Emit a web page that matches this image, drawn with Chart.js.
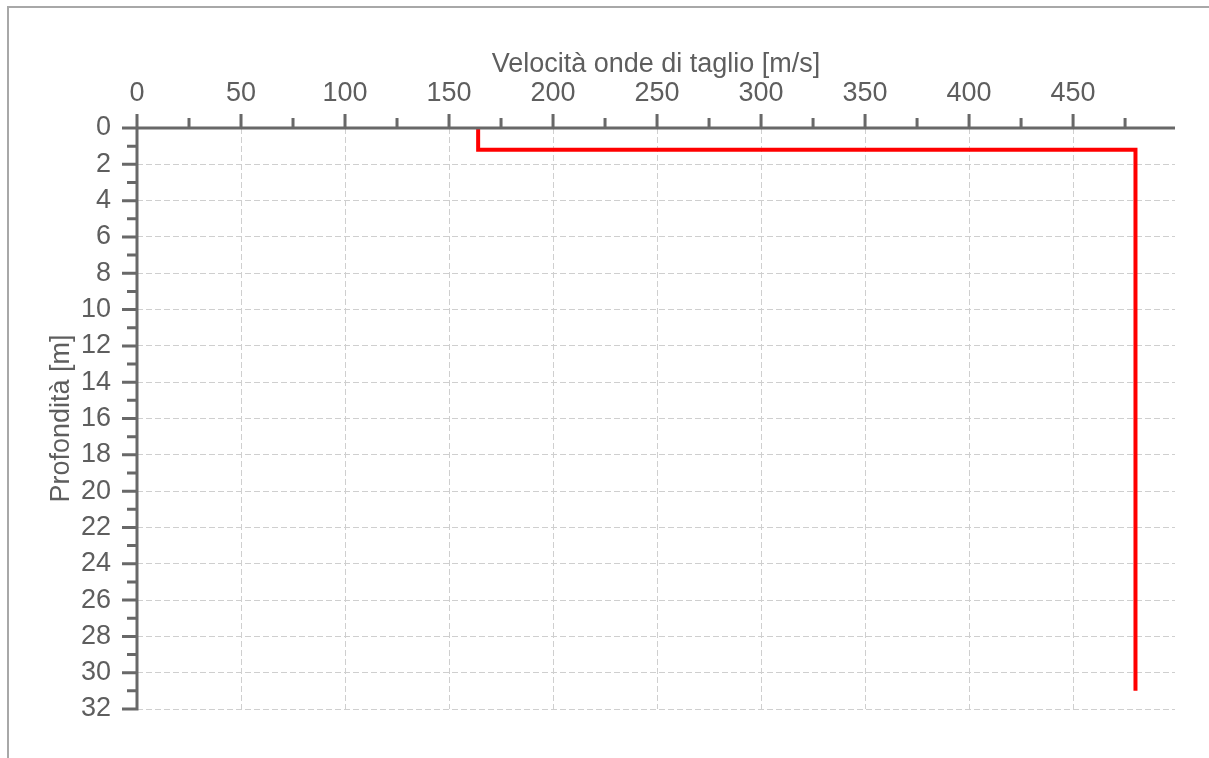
<!DOCTYPE html>
<html>
<head>
<meta charset="utf-8">
<script src="https://cdn.jsdelivr.net/npm/chart.js@4.4.0/dist/chart.umd.min.js"></script>
<style>
  html, body { margin:0; padding:0; background:#fff; overflow:hidden; }
  #frame { position:absolute; left:7px; top:6px; width:1400px; height:1000px;
           border-left:2px solid #a8a8a8; border-top:2px solid #a8a8a8; }
  #wrap { position:absolute; left:0; top:0; width:1209px; height:758px; }
</style>
</head>
<body>
<div id="frame"></div>
<div id="wrap"><canvas id="myChart" width="1209" height="758"></canvas></div>
<script>
// layers: shear wave velocity and depth range
var layerVelocity = [164, 480];
var layerTop = [0, 1.2];
var layerBottom = [1.2, 31];

var xTicks = [0,25,50,75,100,125,150,175,200,225,250,275,300,325,350,375,400,425,450,475];
var xLabels = [0,50,100,150,200,250,300,350,400,450];
var yTicks = [];
for (var t = 0; t <= 32; t++) yTicks.push(t);
var yLabels = [0,2,4,6,8,10,12,14,16,18,20,22,24,26,28,30,32];

var textColor = "#5e5e5e";
var axisColor = "#686868";
var gridColor = "#cfcfcf";
var font = {family: "'Liberation Sans', Arial, sans-serif", size: 27};

var points = [];
for (var i = 0; i < layerVelocity.length; i++) {
  points.push({x: layerVelocity[i], y: layerTop[i]});
  points.push({x: layerVelocity[i], y: layerBottom[i]});
}

// axis lines and tick marks (major longer than minor), drawn over the data
var axisPlugin = {
  id: "axisTicks",
  afterDatasetsDraw: function(chart) {
    var ctx = chart.ctx, a = chart.chartArea;
    var xs = chart.scales.x, ys = chart.scales.y;
    ctx.save();
    ctx.strokeStyle = axisColor;
    ctx.lineWidth = 3;
    ctx.beginPath();
    ctx.moveTo(a.left, a.top); ctx.lineTo(a.right, a.top);
    ctx.moveTo(a.left, a.top); ctx.lineTo(a.left, a.bottom + 1.5);
    xTicks.forEach(function(v) {
      var px = xs.getPixelForValue(v);
      var len = xLabels.indexOf(v) >= 0 ? 14 : 10;
      ctx.moveTo(px, a.top); ctx.lineTo(px, a.top - len);
    });
    yTicks.forEach(function(v) {
      var py = ys.getPixelForValue(v);
      var len = yLabels.indexOf(v) >= 0 ? 15 : 10;
      ctx.moveTo(a.left, py); ctx.lineTo(a.left - len, py);
    });
    ctx.stroke();
    ctx.restore();
  }
};

new Chart("myChart", {
  type: "scatter",
  data: {
    datasets: [{
      data: points,
      showLine: true,
      borderColor: "#ff0000",
      backgroundColor: "#ff0000",
      borderWidth: 4,
      borderJoinStyle: "miter",
      pointRadius: 0,
      fill: false
    }]
  },
  options: {
    responsive: false,
    devicePixelRatio: 1,
    animation: false,
    layout: {padding: {left: 0, top: 0, right: 34, bottom: 49}},
    plugins: {legend: {display: false}, tooltip: {enabled: false}},
    scales: {
      x: {
        type: "linear",
        position: "top",
        min: 0,
        max: 499,
        afterBuildTicks: function(s) { s.ticks = xTicks.map(function(v) { return {value: v}; }); },
        afterFit: function(s) { s.height = 128; },
        ticks: {
          autoSkip: false, maxRotation: 0, padding: 18, color: textColor, font: font,
          callback: function(v) { return xLabels.indexOf(v) >= 0 ? String(v) : ""; }
        },
        grid: {
          drawTicks: false, lineWidth: 1,
          color: function(c) {
            return (c.tick && c.tick.value !== 0 && xLabels.indexOf(c.tick.value) >= 0) ? gridColor : "rgba(0,0,0,0)";
          }
        },
        border: {display: false, dash: [6, 3]},
        title: {display: true, text: "Velocità onde di taglio [m/s]", color: textColor, font: font,
                padding: {top: 48, bottom: 0}}
      },
      y: {
        type: "linear",
        position: "left",
        reverse: true,
        min: 0,
        max: 32,
        afterBuildTicks: function(s) { s.ticks = yTicks.map(function(v) { return {value: v}; }); },
        afterFit: function(s) { s.width = 137; },
        ticks: {
          autoSkip: false, padding: 26, color: textColor, font: font,
          callback: function(v) { return yLabels.indexOf(v) >= 0 ? String(v) : ""; }
        },
        grid: {
          drawTicks: false, lineWidth: 1,
          color: function(c) {
            return (c.tick && c.tick.value !== 0 && yLabels.indexOf(c.tick.value) >= 0) ? gridColor : "rgba(0,0,0,0)";
          }
        },
        border: {display: false, dash: [6, 3]},
        title: {display: true, text: "Profondità [m]", color: textColor, font: font,
                padding: {top: 45, bottom: 0}}
      }
    }
  },
  plugins: [axisPlugin]
});
</script>
</body>
</html>
